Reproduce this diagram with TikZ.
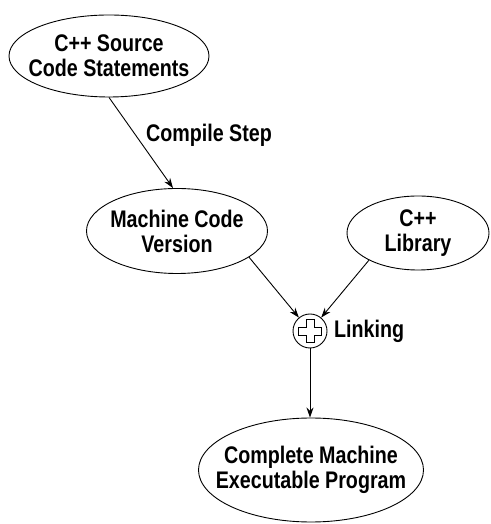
\documentclass[tikz,border=0pt]{standalone}
\usepackage{fontspec}
\setmainfont[FakeStretch=0.82]{Liberation Sans}
\usetikzlibrary{shapes.geometric,arrows.meta,calc}
\tikzset{
  oval/.style={draw, ellipse, line width=0.9pt, inner sep=0pt},
  txt/.style={font=\fontsize{24}{25}\selectfont\bfseries, align=center, inner sep=0pt},
  conn/.style={line width=0.9pt, -{Stealth[length=10pt,width=7pt]}},
}
\begin{document}
\begin{tikzpicture}[x=1pt,y=1pt]
\useasboundingbox (0,0) rectangle (490,524);
\node[oval, minimum width=200pt, minimum height=82pt] (e1) at (109,468) {};
\node[txt] (t1) at (e1) {C++ Source\\Code Statements};
\node[oval, minimum width=181pt, minimum height=85pt] (e2) at (177,293) {};
\node[txt] (t2) at (e2) {Machine Code\\Version};
\node[oval, minimum width=142pt, minimum height=74pt] (e3) at (418,291) {};
\node[txt] (t3) at (e3) {C++\\Library};
\node[draw, circle, line width=0.9pt, minimum size=34pt, inner sep=0pt] (plus) at (310,193) {};
\draw[line width=0.9pt, line join=miter]
  ($(plus)+(-4,4)$) -- ++(0,7.5) -- ++(8,0) -- ++(0,-7.5) -- ++(7.5,0) -- ++(0,-8) -- ++(-7.5,0) -- ++(0,-7.5) -- ++(-8,0) -- ++(0,7.5) -- ++(-7.5,0) -- ++(0,8) -- cycle;
\node[txt, anchor=west] (link) at (334,193) {Linking};
\node[oval, minimum width=225pt, minimum height=104pt] (e4) at (311,54) {};
\node[txt] (t4) at (e4) {Complete Machine\\Executable Program};
\node[txt] (cs) at (209,389) {Compile Step};
\draw[conn] (e1.south) -- ($(e2.north)+(-4,0)$);
\draw[conn] (e2.-20) -- (plus);
\draw[conn] (e3.209) -- (plus);
\draw[conn] (plus.south) -- (plus.south |- e4.north);
\end{tikzpicture}
\end{document}
